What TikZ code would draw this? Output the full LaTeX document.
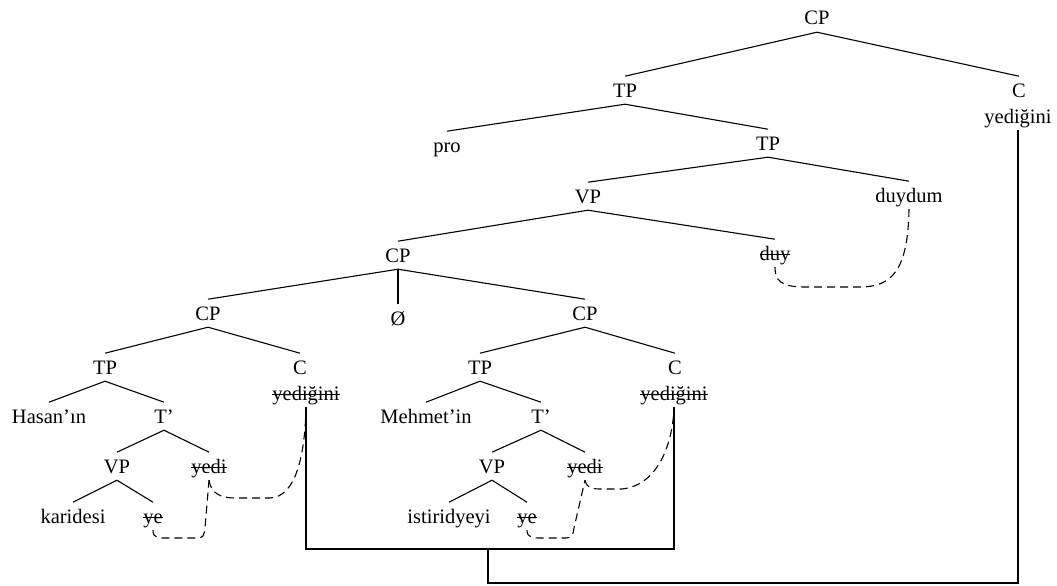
\documentclass[tikz,border=0pt]{standalone}
\usepackage{fontspec}
\setmainfont{Liberation Serif}
\usetikzlibrary{calc}
% a word that has been moved away: struck through
\newcommand\delword[1]{\setbox0\hbox{#1}\rlap{\rule[0.24em]{\wd0}{0.8pt}}\box0}
\begin{document}
\begin{tikzpicture}[x=1pt,y=-1pt,
  lbl/.style={anchor=base, inner xsep=0pt, inner ysep=7pt,
    text height=13.6pt, text depth=0pt,
    font=\fontsize{20.5}{25}\selectfont},
  branch/.style={line width=1.1pt},
  move/.style={line width=1.1pt, dash pattern=on 8pt off 5pt},
  link/.style={line width=1.1pt}]
\useasboundingbox (0,0) rectangle (1057,586);

% matrix clause
\node[lbl] (CP0) at (817,25) {CP};
\node[lbl] (TP1) at (625,97) {TP};
\node[lbl] (C0) at (1019,97) {C};
\node[lbl] (Y0) at (1018,123) {yediğini};
\node[lbl] (pro) at (447,152) {pro};
\node[lbl] (TP2) at (768,150) {TP};
\node[lbl] (VP1) at (588,203) {VP};
\node[lbl] (duydum) at (909,202) {duydum};
\node[lbl] (CPm) at (398,262) {CP};
\node[lbl] (duy) at (775,260) {\delword{duy}};

% coordinated clauses
\node[lbl] (CPl) at (208,320) {CP};
\node[lbl] (null) at (398,325) {Ø};
\node[lbl] (CPr) at (585,320) {CP};

% left conjunct
\node[lbl] (TPl) at (105,374) {TP};
\node[lbl] (Cl) at (300,374) {C};
\node[lbl] (Yl) at (306,400) {\delword{yediğini}};
\node[lbl] (Hasan) at (49,423) {Hasan’ın};
\node[lbl] (Tl) at (164,423) {T’};
\node[lbl] (VPl) at (117,473) {VP};
\node[lbl] (yedil) at (209,473) {\delword{yedi}};
\node[lbl] (karidesi) at (73,523) {karidesi};
\node[lbl] (yel) at (153,523) {\delword{ye}};

% right conjunct
\node[lbl] (TPr) at (480,374) {TP};
\node[lbl] (Cr) at (675,374) {C};
\node[lbl] (Yr) at (674,400) {\delword{yediğini}};
\node[lbl] (Mehmet) at (426,423) {Mehmet’in};
\node[lbl] (Tr) at (541,423) {T’};
\node[lbl] (VPr) at (492,473) {VP};
\node[lbl] (yedir) at (585,473) {\delword{yedi}};
\node[lbl] (istiridyeyi) at (449,523) {istiridyeyi};
\node[lbl] (yer) at (527,523) {\delword{ye}};

% branches
\foreach \p/\c in {CP0/TP1, CP0/C0, TP1/pro, TP1/TP2, TP2/VP1, TP2/duydum,
    VP1/CPm, VP1/duy, CPm/CPl, CPm/null, CPm/CPr,
    CPl/TPl, CPl/Cl, CPr/TPr, CPr/Cr,
    TPl/Hasan, TPl/Tl, TPr/Mehmet, TPr/Tr,
    Tl/VPl, Tl/yedil, Tr/VPr, Tr/yedir,
    VPl/karidesi, VPl/yel, VPr/istiridyeyi, VPr/yer}
  \draw[branch] (\p.south) -- (\c.north);

% head movement (dashed)
\draw[move] (yel.south) .. controls (153,538) and (158,538) .. (166,538)
  -- (197,538) .. controls (203,538) and (204,536) .. (205,528) -- (yedil.south);
\draw[move] (yedil.south) .. controls (211,493) and (220,498) .. (235,498)
  -- (270,498) .. controls (296,497) and (305,455) .. (Yl.south);
\draw[move] (yer.south) .. controls (527,538) and (533,538) .. (542,538)
  -- (566,538) .. controls (572,538) and (573,535) .. (574,528) -- (yedir.south);
\draw[move] (yedir.south) .. controls (587,489) and (593,489) .. (603,489)
  -- (622,489) .. controls (660,485) and (673,440) .. (Yr.south);
\draw[move] (duydum.south) .. controls (908,270) and (892,287) .. (860,287)
  -- (805,287) .. controls (780,287) and (775,280) .. (duy.south);

% shared verb links (solid)
\coordinate (join) at (488,549);
\draw[link] (Yl.south) |- (join) -| (Yr.south);
\draw[link] (join) -- ++(0,34) -| (Y0.south);
\end{tikzpicture}
\end{document}
